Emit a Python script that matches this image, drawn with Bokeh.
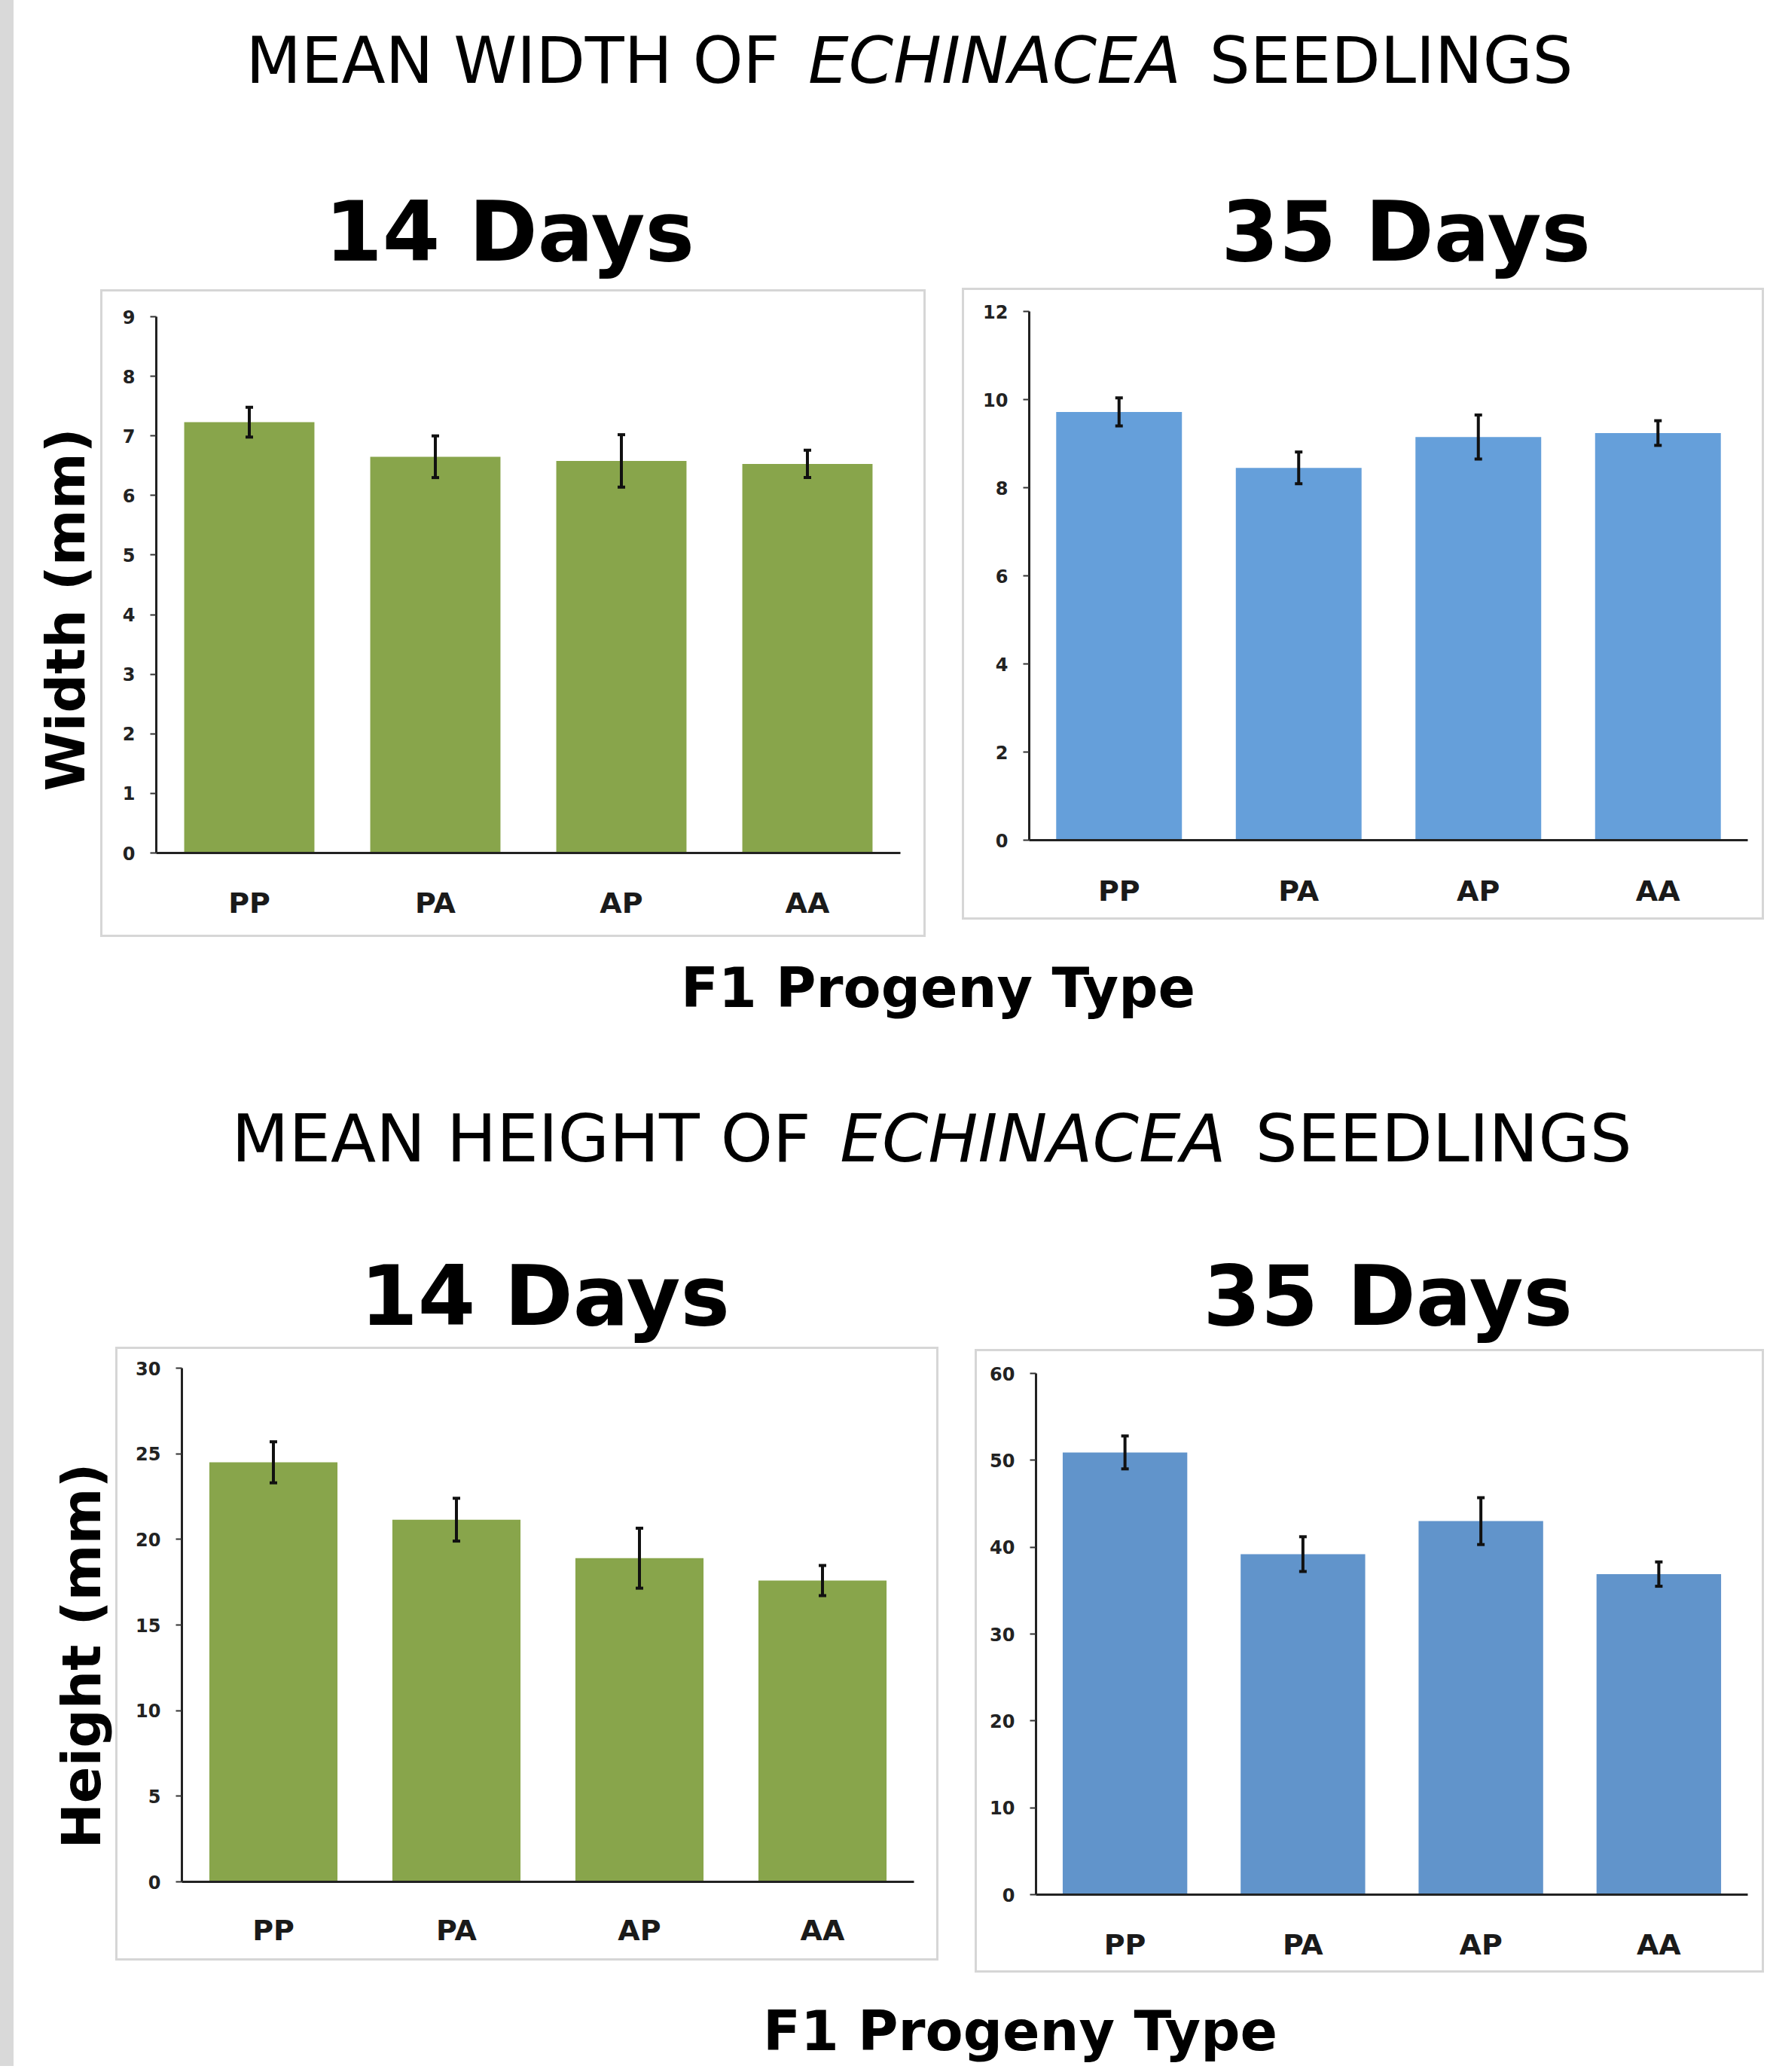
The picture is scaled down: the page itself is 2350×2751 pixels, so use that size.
from math import pi
from bokeh.plotting import figure
from bokeh.models import (ColumnDataSource, Range1d, FactorRange, FixedTicker,
                          Whisker, TeeHead, Spacer)
from bokeh.layouts import row, column
from bokeh.core.properties import value
from bokeh.embed import file_html
from bokeh.resources import INLINE

# ---------------- data ----------------
progeny = ["PP", "PA", "AP", "AA"]

width_14 = [7.23, 6.65, 6.58, 6.53]
width_14_err = [0.25, 0.35, 0.44, 0.23]
width_35 = [9.72, 8.45, 9.15, 9.24]
width_35_err = [0.32, 0.36, 0.50, 0.28]
height_14 = [24.5, 21.15, 18.9, 17.6]
height_14_err = [1.2, 1.25, 1.75, 0.88]
height_35 = [50.9, 39.2, 43.0, 36.9]
height_35_err = [1.9, 2.0, 2.7, 1.4]

width_14_ticks = [0, 1, 2, 3, 4, 5, 6, 7, 8, 9]
width_35_ticks = [0, 2, 4, 6, 8, 10, 12]
height_14_ticks = [0, 5, 10, 15, 20, 25, 30]
height_35_ticks = [0, 10, 20, 30, 40, 50, 60]

title_width = ["MEAN WIDTH OF", "ECHINACEA", "SEEDLINGS"]
title_height = ["MEAN HEIGHT OF", "ECHINACEA", "SEEDLINGS"]
day_labels = ["14 Days", "35 Days"]
x_title = "F1 Progeny Type"
y_title_width = "Width (mm)"
y_title_height = "Height (mm)"

GREEN = "#88a54b"
BLUE_TOP = "#659fda"
BLUE_BOT = "#6194cb"
BOX = "#d6d6d6"
STRIP = "#d9d9d9"

X0 = 18          # rows start right of the grey strip
SHIFT = 0.36     # measured offset of the rendered baseline (in em)


def canvas(x0, y0, w, h):
    p = figure(width=w, height=h, x_range=Range1d(x0, x0 + w),
               y_range=Range1d(-(y0 + h), -y0), x_axis_type=None, y_axis_type=None,
               toolbar_location=None, output_backend="svg", title=None, min_border=0)
    p.outline_line_color = None
    p.background_fill_color = "white"
    p.border_fill_color = "white"
    return p


def label(p, x, y, s, size, style="normal", font="DejaVu Sans", align="center", rotated=False):
    if rotated:
        x = x - SHIFT * size
        ang = pi / 2
    else:
        y = y - SHIFT * size
        ang = 0.0
    p.text(x=[x], y=[-y], text=[s], text_font=value(font),
           text_font_size=value(f"{size}px"), text_font_style=value(style),
           text_align=value(align), text_baseline=value("alphabetic"),
           angle=ang, text_color="#000000")


def panel(vals, errs, ticks, color, W, H, left, right, top, bottom, standoff):
    src = ColumnDataSource(dict(
        x=progeny, top=vals,
        upper=[v + e for v, e in zip(vals, errs)],
        lower=[v - e for v, e in zip(vals, errs)],
    ))
    b = 3
    p = figure(width=W - 2 * b, height=H - 2 * b,
               x_range=FactorRange(factors=progeny, range_padding=0),
               y_range=Range1d(ticks[0], ticks[-1]), toolbar_location=None,
               output_backend="svg", title=None,
               min_border_left=left - b, min_border_right=right - b,
               min_border_top=top - b, min_border_bottom=bottom - b)
    p.vbar(x="x", top="top", width=0.70, source=src, fill_color=color, line_color=None)
    head_u = TeeHead(size=10, line_width=4, line_color="#111111")
    head_l = TeeHead(size=10, line_width=4, line_color="#111111")
    p.add_layout(Whisker(base="x", upper="upper", lower="lower", source=src,
                         line_width=4, line_color="#111111", level="overlay",
                         upper_head=head_u, lower_head=head_l))
    p.xgrid.visible = False
    p.ygrid.visible = False
    p.outline_line_color = None
    p.background_fill_color = "white"
    p.border_fill_color = "white"

    ya = p.yaxis[0]
    ya.ticker = FixedTicker(ticks=ticks)
    ya.axis_line_color = "#222222"
    ya.axis_line_width = 3
    ya.major_tick_out = 8
    ya.major_tick_in = 0
    ya.major_tick_line_width = 2
    ya.major_tick_line_color = "#333333"
    ya.minor_tick_line_color = None
    ya.major_label_standoff = 20
    ya.major_label_text_font = "DejaVu Sans"
    ya.major_label_text_font_style = "bold"
    ya.major_label_text_font_size = "24px"
    ya.major_label_text_color = "#222222"

    xa = p.xaxis[0]
    xa.axis_line_color = "#222222"
    xa.axis_line_width = 3
    xa.major_tick_line_color = None
    xa.minor_tick_line_color = None
    xa.major_tick_out = 0
    xa.major_tick_in = 0
    xa.major_label_standoff = standoff
    xa.major_label_text_font = "DejaVu Sans"
    xa.major_label_text_font_style = "bold"
    xa.major_label_text_font_size = "38px"
    xa.major_label_text_color = "#1a1a1a"

    bg = {"background-color": BOX}
    boxed = column(
        Spacer(width=W, height=b, styles=bg),
        row(Spacer(width=b, height=H - 2 * b, styles=bg), p,
            Spacer(width=b, height=H - 2 * b, styles=bg)),
        Spacer(width=W, height=b, styles=bg),
    )
    return boxed


# ---------------- row A: header (y 0-382) ----------------
hdr = canvas(X0, 0, 2324, 382)
label(hdr, 326, 111, title_width[0], 85, align="left")
label(hdr, 1320, 111, title_width[1], 85, style="italic")
label(hdr, 2088, 111, title_width[2], 85, align="right")
label(hdr, 676, 347, day_labels[0], 110, style="bold")
label(hdr, 1866, 347, day_labels[1], 110, style="bold")

# ---------------- row B: width panels (y 382-1244) ----------------
ylab_w = canvas(X0, 382, 115, 862)
label(ylab_w, 112, 809, y_title_width, 72, style="bold", rotated=True)

p_w14 = panel(width_14, width_14_err, width_14_ticks, GREEN, 1096, 860,
              74, 34, 36, 112, 44)
p_w35 = panel(width_35, width_35_err, width_35_ticks, BLUE_TOP, 1065, 839,
              89, 22, 31, 106, 45)

row_b = row(ylab_w,
            column(Spacer(width=1096, height=2), p_w14),
            Spacer(width=48, height=862),
            column(p_w35, Spacer(width=1065, height=23)))

# ---------------- row C: middle band (y 1244-1787) ----------------
band = canvas(X0, 1244, 2324, 543)
label(band, 1245, 1337, x_title, 73, style="bold")
label(band, 307, 1543, title_height[0], 88, align="left")
label(band, 1371, 1543, title_height[1], 88, style="italic")
label(band, 2166, 1543, title_height[2], 88, align="right")
label(band, 723, 1760, day_labels[0], 110, style="bold")
label(band, 1842, 1760, day_labels[1], 110, style="bold")

# ---------------- row D: height panels (y 1787-2619) ----------------
ylab_h = canvas(X0, 1787, 135, 832)
label(ylab_h, 133, 2198, y_title_height, 72, style="bold", rotated=True)

p_h14 = panel(height_14, height_14_err, height_14_ticks, GREEN, 1093, 815,
              88, 33, 28, 105, 42)
p_h35 = panel(height_35, height_35_err, height_35_ticks, BLUE_BOT, 1048, 828,
              81, 22, 32, 104, 44)

row_d = row(ylab_h,
            column(Spacer(width=1093, height=1), p_h14, Spacer(width=1093, height=16)),
            Spacer(width=48, height=832),
            column(Spacer(width=1048, height=4), p_h35))

# ---------------- row E: footer (y 2619-2743) ----------------
ftr = canvas(X0, 2619, 2324, 124)
label(ftr, 1354, 2722, x_title, 73, style="bold")

strip = Spacer(width=X0, height=2743, styles={"background-color": STRIP})

page = row(strip, column(hdr, row_b, band, row_d, ftr))

with open("out.html", "w") as f:
    f.write(file_html(page, INLINE))
